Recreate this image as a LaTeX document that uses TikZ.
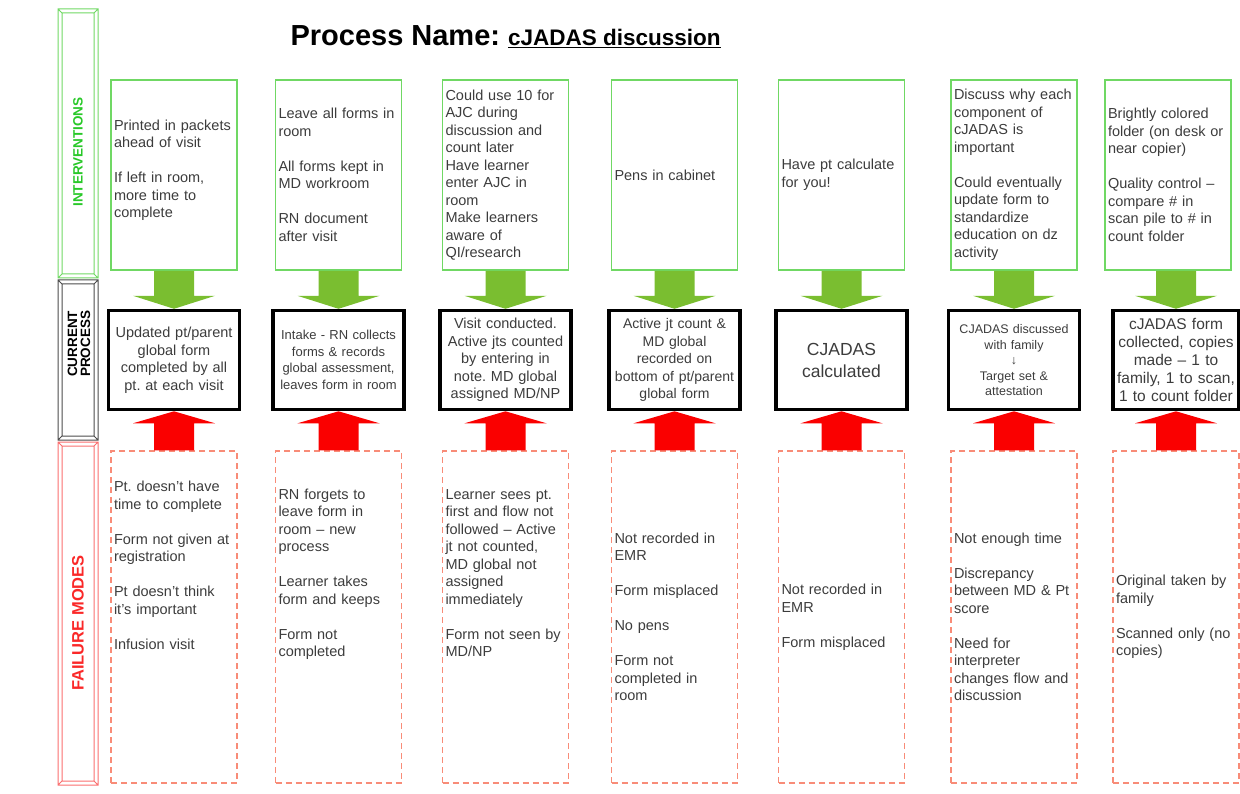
\documentclass[tikz,border=0pt]{standalone}
\usepackage{fontspec}
\setmainfont{Liberation Sans}
\frenchspacing
\usetikzlibrary{positioning,calc}

\definecolor{ivgreen}{RGB}{112,216,100}
\definecolor{ivtext}{RGB}{40,200,40}
\definecolor{arrowgreen}{RGB}{122,190,48}
\definecolor{arrowred}{RGB}{250,0,0}
\definecolor{fmred}{RGB}{248,140,120}
\definecolor{fmside}{RGB}{250,110,110}
\definecolor{fmtext}{RGB}{250,40,40}
\definecolor{bodytext}{RGB}{60,60,60}

\tikzset{
  blockarrow/.style={to path={
      ($(\tikztostart -| \tikztotarget)+(-20,0)$) -- ($(\tikztotarget)+(-20,#1)$)
      -- ($(\tikztotarget)+(-41,#1)$) -- (\tikztotarget)
      -- ($(\tikztotarget)+(41,#1)$) -- ($(\tikztotarget)+(20,#1)$)
      -- ($(\tikztostart -| \tikztotarget)+(20,0)$) -- cycle}},
  garrow/.style={fill=arrowgreen, blockarrow=-13},
  rarrow/.style={fill=arrowred, blockarrow=12},
  sidelabel/.style={rotate=90, font=\bfseries\fontsize{13.5}{13}\selectfont, inner sep=0pt}
}

\begin{document}
\begin{tikzpicture}[x=1pt, y=-1pt,
    ivbox/.style={rectangle, draw=ivgreen, line width=1.6pt, text width=120pt,
                  inner sep=3pt, minimum height=190pt, align=left, text=bodytext,
                  font=\fontsize{14.5}{17.5}\selectfont},
    procbox/.style={rectangle, draw=black, line width=3.5pt, text width=123pt,
                  inner sep=4pt, minimum height=99pt, align=center, text=bodytext,
                  font=\fontsize{14.5}{17.5}\selectfont},
    fmbox/.style={rectangle, draw=fmred, dash pattern=on 6pt off 4pt, line width=1.4pt,
                  text width=120pt, inner sep=3pt, minimum height=332pt, align=left,
                  text=bodytext, font=\fontsize{14.5}{17.5}\selectfont}]
    \useasboundingbox (0,0) rectangle (1240,794);

    % side bands
    \draw[ivgreen, line width=1pt] (58,9) rectangle (98,278) (62,13) rectangle (94,274)
        (58,9) -- (62,13) (98,9) -- (94,13) (58,278) -- (62,274) (98,278) -- (94,274);
    \draw[black!70, line width=1pt] (58,280) rectangle (98,440) (62,284) rectangle (94,436)
        (58,280) -- (62,284) (98,280) -- (94,284) (58,440) -- (62,436) (98,440) -- (94,436);
    \draw[fmside, line width=1pt] (58,442) rectangle (98,785) (62,446) rectangle (94,781)
        (58,442) -- (62,446) (98,442) -- (94,446) (58,785) -- (62,781) (98,785) -- (94,781);
    \node[sidelabel, text=ivtext] (lint) at (78,152) {INTERVENTIONS};
    \node[sidelabel, align=left, anchor=west] (lcur) at (79,377) {CURRENT\\PROCESS};
    \node[sidelabel, text=fmtext, font=\bfseries\fontsize{16.5}{16}\selectfont] (lfm) at (78,623) {FAILURE MODES};

    \node[anchor=base west, font=\bfseries] (title) at (287,46)
        {\fontsize{29}{32}\selectfont Process Name: \fontsize{22.5}{24}\selectfont\underline{cJADAS discussion}};

    % interventions
    \node[ivbox] (i1) at (174,175) {Printed in packets\\ahead of visit\\[17.5pt]If left in room,\\more time to\\complete\\[-5pt]\mbox{}};
    \node[ivbox] (i2) at (338.5,175) {Leave all forms in\\room\\[17.5pt]All forms kept in\\MD workroom\\[17.5pt]RN document\\after visit};
    \node[ivbox] (i3) at (505.5,175) {Could use 10 for\\AJC during\\discussion and\\count later\\Have learner\\enter AJC in\\room\\Make learners\\aware of\\QI/research};
    \node[ivbox] (i4) at (674.5,175) {Pens in cabinet};
    \node[ivbox] (i5) at (841.5,175) {Have pt calculate\\for you!};
    \node[ivbox] (i6) at (1014,175) {Discuss why each\\component of\\cJADAS is\\important\\[17.5pt]Could eventually\\update form to\\standardize\\education on dz\\activity};
    \node[ivbox] (i7) at (1168,175) {Brightly colored\\folder (on desk or\\near copier)\\[17.5pt]Quality control –\\compare \# in\\scan pile to \# in\\count folder};

    % current process
    \node[procbox, below=38pt of i1] (p1) {Updated pt/parent\\global form\\completed by all\\pt. at each visit};
    \node[procbox, below=38pt of i2, font=\fontsize{13}{16.5}\selectfont] (p2) {Intake - RN collects\\forms \& records\\global assessment,\\leaves form in room};
    \node[procbox, below=38pt of i3] (p3) {Visit conducted.\\Active jts counted\\by entering in\\note. MD global\\assigned MD/NP};
    \node[procbox, below=38pt of i4, font=\fontsize{14}{17.5}\selectfont] (p4) {Active jt count \&\\MD global\\recorded on\\bottom of pt/parent\\global form};
    \node[procbox, below=38pt of i5, font=\fontsize{17.5}{22}\selectfont] (p5) {CJADAS\\calculated};
    \node[procbox, below=38pt of i6, font=\fontsize{12.5}{15.5}\selectfont] (p6) {CJADAS discussed\\with family\\↓\\Target set \&\\attestation};
    \node[procbox, below=38pt of i7, xshift=8pt, text width=118pt, font=\fontsize{15.5}{18}\selectfont] (p7) {cJADAS form\\collected, copies\\made – 1 to\\family, 1 to scan,\\1 to count folder};

    % failure modes
    \node[fmbox, below=39pt of p1] (f1) {Pt. doesn't have\\time to complete\\[17.5pt]Form not given at\\registration\\[17.5pt]Pt doesn't think\\it's important\\[17.5pt]Infusion visit\\[86.5pt]\mbox{}};
    \node[fmbox, below=39pt of p2] (f2) {RN forgets to\\leave form in\\room – new\\process\\[17.5pt]Learner takes\\form and keeps\\[17.5pt]Form not\\completed\\[70.5pt]\mbox{}};
    \node[fmbox, below=39pt of p3] (f3) {Learner sees pt.\\first and flow not\\followed – Active\\jt not counted,\\MD global not\\assigned\\immediately\\[17.5pt]Form not seen by\\MD/NP\\[70.5pt]\mbox{}};
    \node[fmbox, below=39pt of p4] (f4) {Not recorded in\\EMR\\[17.5pt]Form misplaced\\[17.5pt]No pens\\[17.5pt]Form not\\completed in\\room};
    \node[fmbox, below=39pt of p5] (f5) {Not recorded in\\EMR\\[17.5pt]Form misplaced};
    \node[fmbox, below=39pt of p6] (f6) {Not enough time\\[17.5pt]Discrepancy\\between MD \& Pt\\score\\[17.5pt]Need for\\interpreter\\changes flow and\\discussion};
    \node[fmbox, below=39pt of p7] (f7) {Original taken by\\family\\[17.5pt]Scanned only (no\\copies)};

    % block arrows
    \path[garrow] (i1.south) to (p1.north); \path[garrow] (i2.south) to (p2.north);
    \path[garrow] (i3.south) to (p3.north); \path[garrow] (i4.south) to (p4.north);
    \path[garrow] (i5.south) to (p5.north); \path[garrow] (i6.south) to (p6.north);
    \path[garrow] (i7.south) to (p7.north);
    \path[rarrow] (f1.north) to (p1.south); \path[rarrow] (f2.north) to (p2.south);
    \path[rarrow] (f3.north) to (p3.south); \path[rarrow] (f4.north) to (p4.south);
    \path[rarrow] (f5.north) to (p5.south); \path[rarrow] (f6.north) to (p6.south);
    \path[rarrow] (f7.north) to (p7.south);
\end{tikzpicture}
\end{document}
